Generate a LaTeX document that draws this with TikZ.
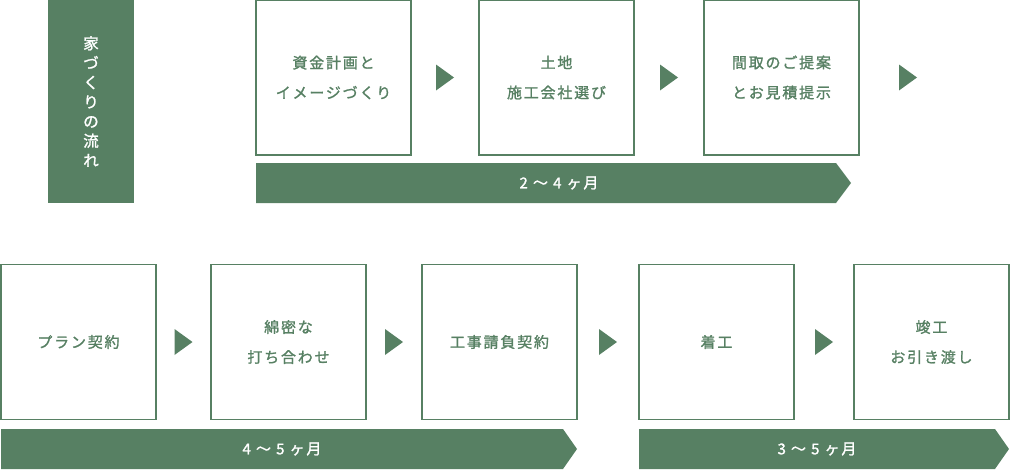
\documentclass[tikz,border=0pt]{standalone}
\usepackage{fontspec}
\setmainfont{Noto Sans CJK JP}[FakeBold=1.4]
\usetikzlibrary{positioning, calc}
\definecolor{midori}{RGB}{87,128,99}

\begin{document}
\begin{tikzpicture}[
      x=1pt, y=-1pt,
      font=\fontsize{15}{30}\selectfont\addfontfeatures{LetterSpace=12},
      hako/.style={draw=midori, line width=1.2pt, outer sep=0pt, inner sep=0pt,
      minimum width=155pt, minimum height=155pt, align=center, text=midori},
      daimei/.style={fill=midori, text=white, align=center, inner sep=0pt,
      minimum width=86pt, minimum height=203pt, font=\fontsize{15.5}{19.5}\selectfont},
      obi/.style={fill=midori},
      kikan/.style={text=white, inner sep=0pt},
      sankaku/.pic={\fill[midori] (-9,-13) -- (9,0) -- (-9,13) -- cycle;}
    ]
    \useasboundingbox (0,0) rectangle (1010,469);

    \node[daimei] (title) at (91,101.5) {家\\づ\\く\\り\\の\\流\\れ};

    % upper row
    \node[hako] (shikin) at (333.5,77.5) {資金計画と\\イメージづくり};
    \node[hako, right=68pt of shikin] (tochi) {土地\\施工会社選び};
    \node[hako, right=70pt of tochi] (madori) {間取のご提案\\とお見積提示};

    \pic at ($(shikin.east)!0.5!(tochi.west)$) {sankaku};
    \pic at ($(tochi.east)!0.5!(madori.west)$) {sankaku};
    \pic at ([xshift=49pt]madori.east) {sankaku};

    \fill[obi] (256,163) -- (836,163) -- (851,183) -- (836,203) -- (256,203) -- cycle;
    \node[kikan] (kikan1) at (559,183) {2 ～ 4 ヶ月};

    % lower row
    \node[hako] (plan) at (78.5,342) {プラン契約};
    \node[hako, right=55pt of plan] (uchiawase) {綿密な\\打ち合わせ};
    \node[hako, right=56pt of uchiawase] (ukeoi) {工事請負契約};
    \node[hako, right=62pt of ukeoi] (chakko) {着工};
    \node[hako, right=60pt of chakko] (shunko) {竣工\\お引き渡し};

    \pic at ($(plan.east)!0.5!(uchiawase.west)$) {sankaku};
    \pic at ($(uchiawase.east)!0.5!(ukeoi.west)$) {sankaku};
    \pic at ($(ukeoi.east)!0.5!(chakko.west)$) {sankaku};
    \pic at ($(chakko.east)!0.5!(shunko.west)$) {sankaku};

    \fill[obi] (1,429) -- (563,429) -- (577,449) -- (563,469) -- (1,469) -- cycle;
    \node[kikan] (kikan2) at (282,449) {4 ～ 5 ヶ月};
    \fill[obi] (639,429) -- (995,429) -- (1009,449) -- (995,469) -- (639,469) -- cycle;
    \node[kikan] (kikan3) at (817,449) {3 ～ 5 ヶ月};
\end{tikzpicture}
\end{document}
